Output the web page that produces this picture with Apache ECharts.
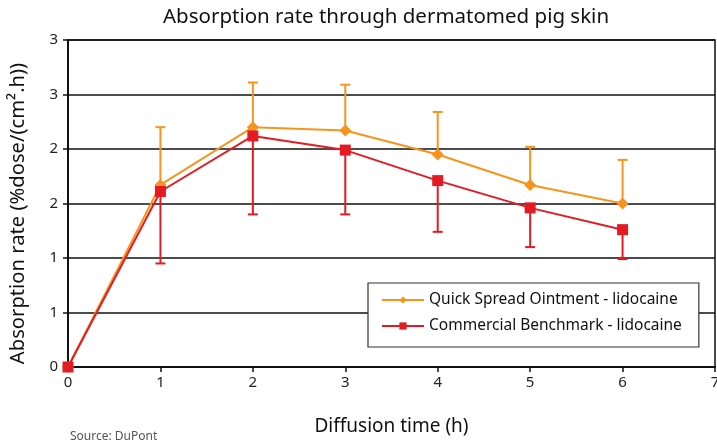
<!DOCTYPE html>
<html><head><meta charset="utf-8">
<script src="https://cdn.jsdelivr.net/npm/echarts@6/dist/echarts.min.js"></script>
<style>html,body{margin:0;padding:0;background:#fff}#c{width:717px;height:448px}</style>
</head><body><div id="c"></div>
<script>
const hours = [0, 1, 2, 3, 4, 5, 6];
const quickSpread = [0, 1.67, 2.20, 2.17, 1.95, 1.67, 1.50];
const quickSpreadUpper = [null, 2.20, 2.61, 2.59, 2.34, 2.02, 1.90];
const benchmark = [0, 1.61, 2.12, 1.99, 1.71, 1.46, 1.26];
const benchmarkLower = [null, 0.95, 1.40, 1.40, 1.24, 1.10, 0.99];
const yTickValues = [0, 0.5, 1, 1.5, 2, 2.5, 3];
const yTickLabels = ['0', '1', '1', '2', '2', '3', '3'];
const xTickLabels = ['0', '1', '2', '3', '4', '5', '6', '7'];

const ORANGE = '#F7941D', RED = '#E31B23';
const FONT = 'Noto Sans';

function pairs(xs, ys) { return xs.map((x, i) => [x, ys[i]]); }
function errData(ys, ends) {
  return hours.map((x, i) => ends[i] == null ? null : [x, ys[i], ends[i]]).filter(d => d);
}
function errRender(color) {
  return function (params, api) {
    const x = api.value(0);
    const p0 = api.coord([x, api.value(1)]);
    const p1 = api.coord([x, api.value(2)]);
    const hw = 5;
    const st = { stroke: color, lineWidth: 2 };
    return { type: 'group', children: [
      { type: 'line', shape: { x1: p0[0], y1: p0[1], x2: p1[0], y2: p1[1] }, style: st },
      { type: 'line', shape: { x1: p1[0] - hw, y1: p1[1], x2: p1[0] + hw, y2: p1[1] }, style: st }
    ]};
  };
}

const chart = echarts.init(document.getElementById('c'));
chart.setOption({
  animation: false,
  textStyle: { fontFamily: FONT },
  title: {
    text: 'Absorption rate through dermatomed pig skin',
    left: 158, top: 2,
    textStyle: { fontFamily: FONT, fontSize: 20.5, fontWeight: 'normal', color: '#111' }
  },
  graphic: [{
    type: 'text', left: 70, top: 431,
    style: { text: 'Source: DuPont', fontFamily: FONT, fontSize: 12, fill: '#555' }
  }],
  grid: { left: 68, right: 2, top: 40, bottom: 81, show: true, borderColor: '#111', borderWidth: 1.5,
    outerBoundsMode: 'none', containLabel: false },
  xAxis: {
    type: 'value', min: 0, max: 7, interval: 1,
    name: 'Diffusion time (h)', nameLocation: 'middle', nameGap: 50,
    nameTextStyle: { fontFamily: FONT, fontSize: 19, color: '#111' },
    axisLine: { lineStyle: { color: '#111', width: 2 } },
    axisTick: { show: true, length: 5, lineStyle: { color: '#111', width: 1.5 } },
    axisLabel: { fontFamily: FONT, fontSize: 15, color: '#222', margin: 8,
      formatter: v => xTickLabels[Math.round(v)] },
    splitLine: { show: false }
  },
  yAxis: {
    type: 'value', min: 0, max: 3, interval: 0.5,
    name: 'Absorption rate (%dose/(cm\u00B2.h))', nameLocation: 'middle', nameGap: 40,
    nameTextStyle: { fontFamily: FONT, fontSize: 20.2, color: '#111', padding: [0, 20, 0, 0] },
    axisLine: { show: true, lineStyle: { color: '#111', width: 2 } },
    axisTick: { show: true, length: 5, lineStyle: { color: '#111', width: 1.5 } },
    axisLabel: { fontFamily: FONT, fontSize: 15, color: '#222', margin: 10,
      formatter: v => yTickLabels[yTickValues.indexOf(v)] },
    splitLine: { show: true, lineStyle: { color: '#111', width: 1.5 } }
  },
  legend: {
    data: ['Quick Spread Ointment - lidocaine', 'Commercial Benchmark - lidocaine'],
    orient: 'vertical', left: 368, top: 283,
    padding: [9, 17, 13, 13], itemGap: 10,
    itemWidth: 42, itemHeight: 9,
    backgroundColor: '#fff', borderColor: '#333', borderWidth: 1.2,
    textStyle: { fontFamily: FONT, fontSize: 15.5, color: '#111' }
  },
  series: [
    { type: 'custom', name: 'qsErr', renderItem: errRender(ORANGE), data: errData(quickSpread, quickSpreadUpper), z: 2, silent: true },
    { type: 'custom', name: 'cbErr', renderItem: errRender(RED), data: errData(benchmark, benchmarkLower), z: 2, silent: true },
    { type: 'line', name: 'Quick Spread Ointment - lidocaine', data: pairs(hours, quickSpread),
      symbol: 'diamond', symbolSize: 12, lineStyle: { color: ORANGE, width: 2 },
      itemStyle: { color: ORANGE }, z: 3 },
    { type: 'line', name: 'Commercial Benchmark - lidocaine', data: pairs(hours, benchmark),
      symbol: 'rect', symbolSize: 11, lineStyle: { color: RED, width: 2 },
      itemStyle: { color: RED }, z: 4 }
  ]
});
</script></body></html>
